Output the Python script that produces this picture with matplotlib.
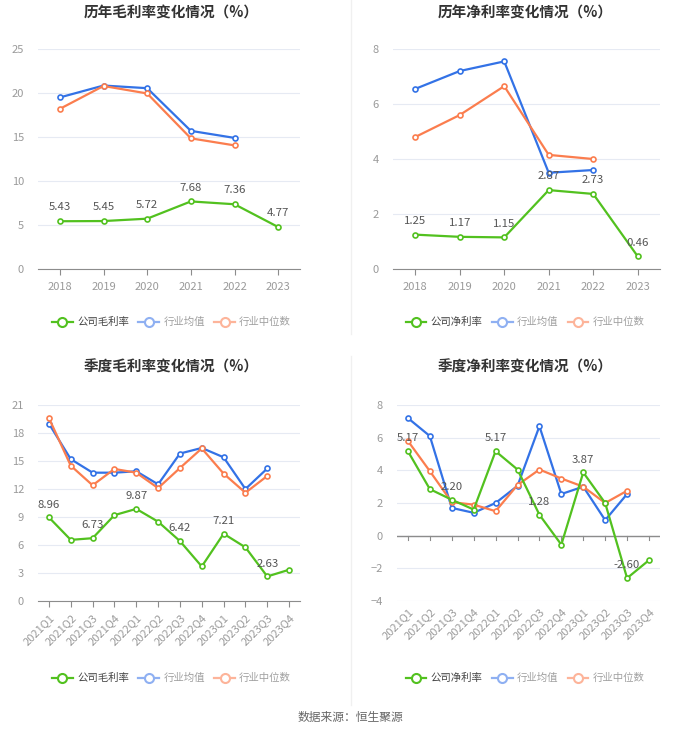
import matplotlib
matplotlib.use("Agg")
import matplotlib.pyplot as plt
from matplotlib.lines import Line2D

plt.rcParams['font.family'] = ['Noto Sans CJK SC', 'DejaVu Sans']

# ---- data ----
years = ['2018', '2019', '2020', '2021', '2022', '2023']
year_gross_company = [5.43, 5.45, 5.72, 7.68, 7.36, 4.77]
year_gross_avg = [19.5, 20.85, 20.55, 15.7, 14.9]
year_gross_median = [18.2, 20.8, 19.95, 14.85, 14.05]

year_net_company = [1.25, 1.17, 1.15, 2.87, 2.73, 0.46]
year_net_avg = [6.55, 7.2, 7.55, 3.5, 3.6]
year_net_median = [4.8, 5.6, 6.65, 4.15, 4.0]

quarters = ['2021Q1', '2021Q2', '2021Q3', '2021Q4', '2022Q1', '2022Q2',
            '2022Q3', '2022Q4', '2023Q1', '2023Q2', '2023Q3', '2023Q4']
q_gross_company = [8.96, 6.55, 6.73, 9.2, 9.87, 8.5, 6.42, 3.7, 7.21, 5.75, 2.63, 3.35]
q_gross_avg = [19.0, 15.2, 13.75, 13.75, 13.9, 12.5, 15.8, 16.4, 15.4, 12.0, 14.2]
q_gross_median = [19.6, 14.5, 12.4, 14.15, 13.75, 12.1, 14.25, 16.35, 13.65, 11.6, 13.4]

q_net_company = [5.17, 2.85, 2.20, 1.6, 5.17, 4.05, 1.28, -0.55, 3.87, 2.0, -2.60, -1.5]
q_net_avg = [7.2, 6.1, 1.7, 1.4, 2.0, 3.05, 6.7, 2.55, 3.0, 0.95, 2.55]
q_net_median = [5.8, 3.95, 2.05, 1.9, 1.5, 3.1, 4.05, 3.5, 3.0, 2.0, 2.75]

GREEN = '#52c11f'
BLUE = '#3372e6'
ORANGE = '#fb7d4e'
GRID = '#e6eaf3'
TICK = '#9a9a9a'


def draw_panel(ax, cats, company, avg, median, ymin, ymax, step,
               rotate, label_every, zero_axis=False):
    x = list(range(len(cats)))
    ax.set_xlim(-0.5, len(cats) - 0.5)
    ax.set_ylim(ymin, ymax)
    ticks = list(range(ymin, ymax + 1, step))
    ax.set_yticks(ticks)
    for t in ticks:
        ax.axhline(t, color=GRID, lw=0.8, zorder=0)

    mk = dict(marker='o', markersize=3.6, markerfacecolor='white',
              markeredgewidth=1.2, lw=1.6)
    ax.plot(x[:len(avg)], avg, color=BLUE, zorder=3, **mk)
    ax.plot(x[:len(median)], median, color=ORANGE, zorder=3, **mk)
    ax.plot(x, company, color=GREEN, zorder=4, **mk)

    off = (ymax - ymin) * 0.04
    for i in range(0, len(company), label_every):
        ax.text(x[i], company[i] + off, f'{company[i]:.2f}', ha='center',
                va='bottom', fontsize=8.2, color='#555555', zorder=5)

    for s in ax.spines.values():
        s.set_visible(False)
    ax.tick_params(axis='y', length=0, labelsize=8, labelcolor=TICK, pad=10)
    ax.set_xticks(x)
    if zero_axis:
        ax.axhline(0, color='#8c8c8c', lw=1, zorder=2)
        for xi in x:
            ax.plot([xi, xi], [0, -(ymax - ymin) * 0.02], color='#8c8c8c',
                    lw=0.8, zorder=2, clip_on=False)
        ax.tick_params(axis='x', length=0)
    else:
        ax.spines['bottom'].set_visible(True)
        ax.spines['bottom'].set_color('#8c8c8c')
        ax.tick_params(axis='x', length=4, color='#8c8c8c')
    if rotate:
        ax.set_xticklabels(cats, rotation=45, ha='right', rotation_mode='anchor',
                           fontsize=8, color=TICK)
        ax.tick_params(axis='x', pad=4)
    else:
        ax.set_xticklabels(cats, fontsize=8, color=TICK)
        ax.tick_params(axis='x', pad=5)

    handles = [
        Line2D([], [], color=GREEN, marker='o', markersize=6.5, markerfacecolor='white',
               markeredgewidth=1.5, lw=1.6),
        Line2D([], [], color='#8fb0f2', marker='o', markersize=6.5, markerfacecolor='white',
               markeredgewidth=1.5, lw=1.6),
        Line2D([], [], color='#fdb49a', marker='o', markersize=6.5, markerfacecolor='white',
               markeredgewidth=1.5, lw=1.6),
    ]
    return handles


fig = plt.figure(figsize=(7, 7.34), dpi=100)

ax1 = fig.add_axes([0.0543, 0.6335, 0.3743, 0.2997])
ax2 = fig.add_axes([0.5614, 0.6335, 0.3814, 0.2997])
ax3 = fig.add_axes([0.0543, 0.1812, 0.3743, 0.267])
ax4 = fig.add_axes([0.5671, 0.1812, 0.3757, 0.267])

panels = [
    (ax1, years, year_gross_company, year_gross_avg, year_gross_median, 0, 25, 5,
     '历年毛利率变化情况（%）', '公司毛利率', False, 1, False, 0.561, 0.983),
    (ax2, years, year_net_company, year_net_avg, year_net_median, 0, 8, 2,
     '历年净利率变化情况（%）', '公司净利率', False, 1, False, 0.561, 0.983),
    (ax3, quarters, q_gross_company, q_gross_avg, q_gross_median, 0, 21, 3,
     '季度毛利率变化情况（%）', '公司毛利率', True, 2, False, 0.076, 0.5),
    (ax4, quarters, q_net_company, q_net_avg, q_net_median, -4, 8, 2,
     '季度净利率变化情况（%）', '公司净利率', True, 2, True, 0.076, 0.5),
]

for (ax, cats, comp, avg, med, lo, hi, st, title, name, rot, every, zero,
     leg_y, title_y) in panels:
    h = draw_panel(ax, cats, comp, avg, med, lo, hi, st, rot, every, zero)
    cx = 0.245 if ax.get_position().x0 < 0.5 else 0.75
    fig.text(cx, title_y, title, ha='center', va='center', fontsize=10.5,
             fontweight='bold', color='#333333')
    leg = fig.legend(h, [name, '行业均值', '行业中位数'], loc='center',
                     bbox_to_anchor=(cx, leg_y), ncol=3, frameon=False,
                     fontsize=7.5, handlelength=2.0, handletextpad=0.4,
                     columnspacing=0.9)
    for i, t in enumerate(leg.get_texts()):
        t.set_color('#444444' if i == 0 else '#a0a0a0')

# faint divider lines
fig.add_artist(Line2D([0.502, 0.502], [0.545, 1.0], color='#f0f0f0', lw=1))
fig.add_artist(Line2D([0.502, 0.502], [0.04, 0.515], color='#f0f0f0', lw=1))

fig.text(0.5, 0.023, '数据来源：恒生聚源', ha='center', va='center',
         fontsize=8.5, color='#666666')

fig.savefig('out.png', dpi=100)
